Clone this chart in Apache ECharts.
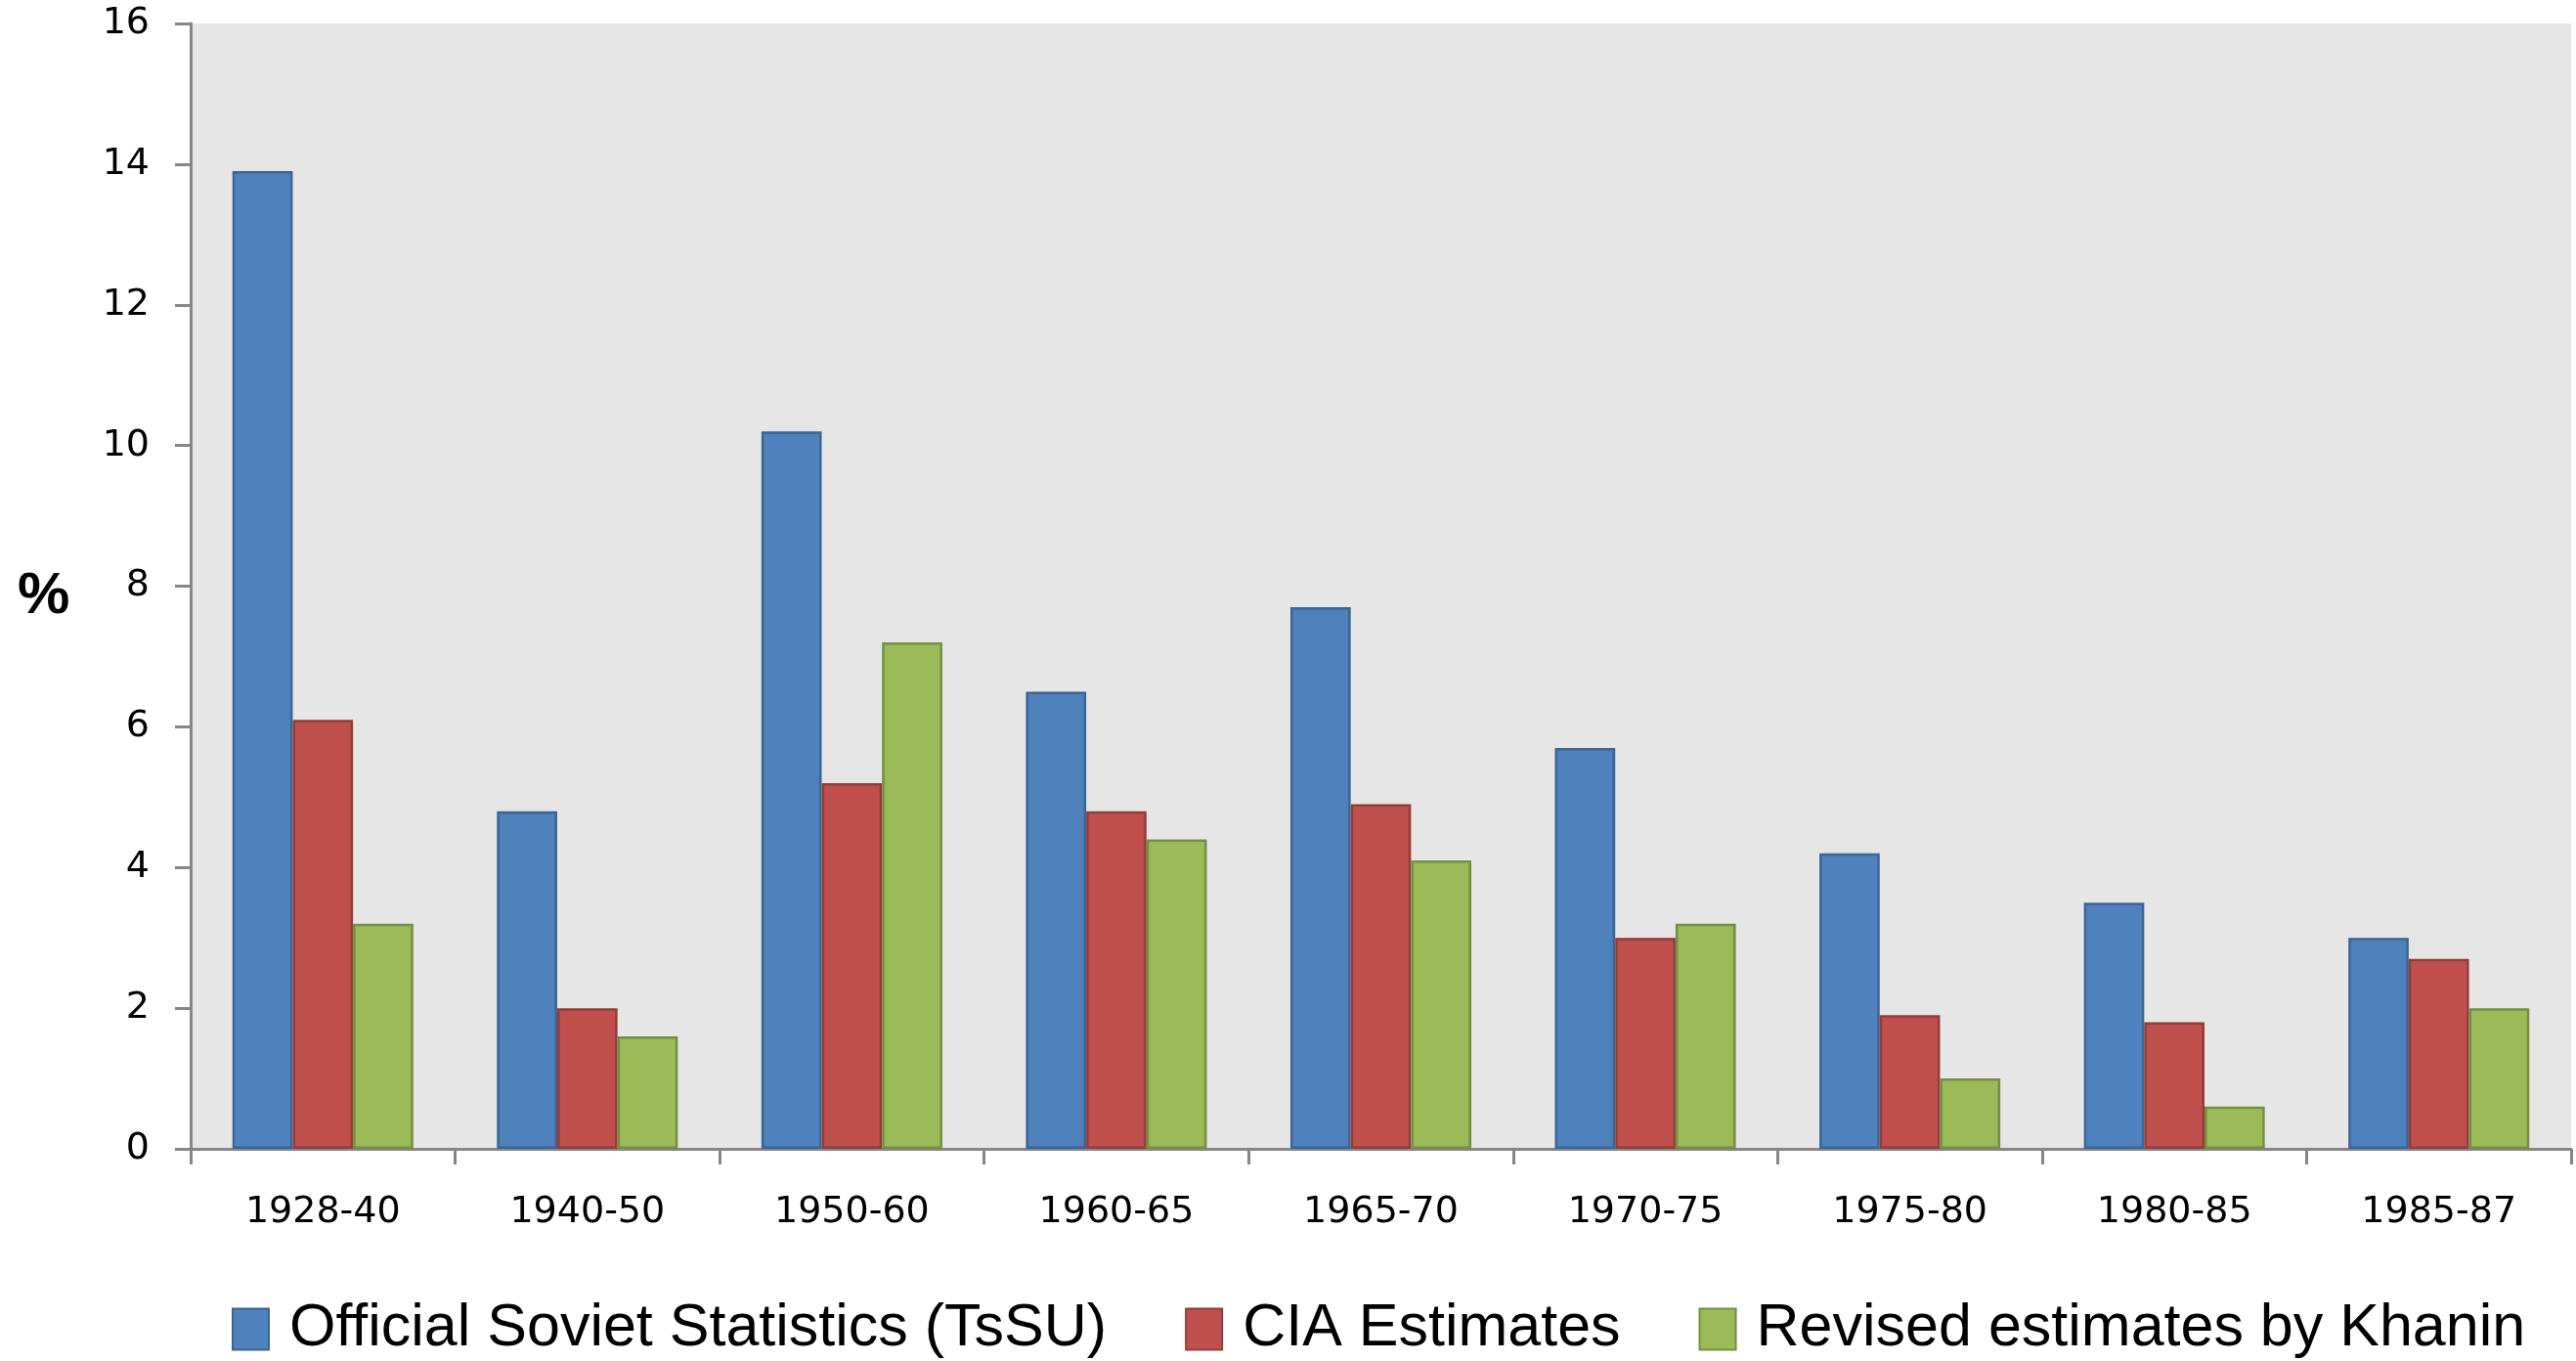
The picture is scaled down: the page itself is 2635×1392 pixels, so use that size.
<!DOCTYPE html>
<html>
<head>
<meta charset="utf-8">
<script src="https://cdn.jsdelivr.net/npm/echarts@6/dist/echarts.min.js"></script>
<style>
html,body{margin:0;padding:0;background:#fff;}
#chart{width:2635px;height:1392px;}
</style>
</head>
<body>
<div id="chart"></div>
<script>
const categories = ['1928-40','1940-50','1950-60','1960-65','1965-70','1970-75','1975-80','1980-85','1985-87'];
const seriesNames = ['Official Soviet Statistics (TsSU)','CIA Estimates','Revised estimates by Khanin'];
const officialTsSU = [13.9, 4.8, 10.2, 6.5, 7.7, 5.7, 4.2, 3.5, 3.0];
const ciaEstimates = [6.1, 2.0, 5.2, 4.8, 4.9, 3.0, 1.9, 1.8, 2.7];
const khaninEstimates = [3.2, 1.6, 7.2, 4.4, 4.1, 3.2, 1.0, 0.6, 2.0];
const yTicks = [0, 2, 4, 6, 8, 10, 12, 14, 16];

const fills = ['#4F81BD', '#C0504D', '#9BBB59'];
const borders = ['#3B6593', '#943C3A', '#748E42'];
const values = [officialTsSU, ciaEstimates, khaninEstimates];

const chart = echarts.init(document.getElementById('chart'));
const axisGray = '#868686';
chart.setOption({
  animation: false,
  backgroundColor: '#ffffff',
  grid: {
    left: 195, right: 5, top: 24, bottom: 217,
    show: true, backgroundColor: '#E6E6E6', borderWidth: 0
  },
  legend: {
    left: 232, top: 1324,
    icon: 'rect', itemWidth: 37, itemHeight: 42, itemGap: 80,
    data: seriesNames,
    textStyle: {
      fontFamily: "'Liberation Sans', sans-serif",
      fontSize: 61, color: '#000', padding: [0, 0, 0, 16]
    }
  },
  graphic: [{
    type: 'text', left: 18, top: 580,
    style: { text: '%', font: "bold 60px 'Liberation Sans', sans-serif", fill: '#000' }
  }],
  xAxis: {
    type: 'category', data: categories,
    axisLine: { lineStyle: { color: axisGray, width: 3 } },
    axisTick: { show: true, alignWithLabel: false, length: 16, lineStyle: { color: axisGray, width: 3 } },
    axisLabel: { color: '#000', fontFamily: 'DejaVu Sans', fontSize: 38, margin: 46 },
    splitLine: { show: false }
  },
  yAxis: {
    type: 'value', min: yTicks[0], max: yTicks[yTicks.length - 1], interval: 2,
    axisLine: { show: true, lineStyle: { color: axisGray, width: 3 } },
    axisTick: { show: true, length: 16, lineStyle: { color: axisGray, width: 3 } },
    axisLabel: { color: '#000', fontFamily: 'DejaVu Sans', fontSize: 38, margin: 42 },
    splitLine: { show: false }
  },
  series: seriesNames.map((name, i) => ({
    name: name, type: 'bar', data: values[i],
    barGap: '0%', barCategoryGap: '31.6%',
    itemStyle: { color: fills[i], borderColor: borders[i], borderWidth: 2.5 }
  }))
});
</script>
</body>
</html>
